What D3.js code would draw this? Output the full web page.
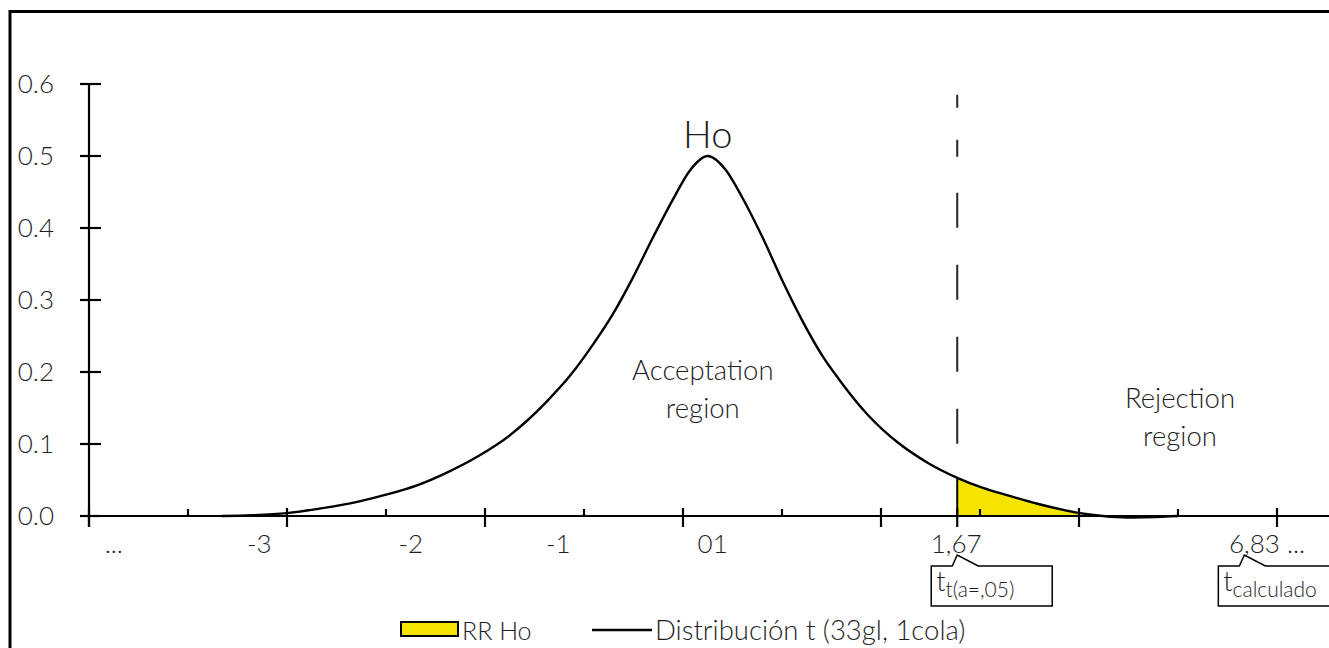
<!DOCTYPE html>
<html>
<head>
<meta charset="utf-8">
<script src="https://cdn.jsdelivr.net/npm/d3@7"></script>
<style>
  body { margin: 0; background: #fff; }
  svg { display: block; font-family: "Lato", "Open Sans", sans-serif; font-weight: 300; }
  text { fill: #1e1e1e; }
</style>
</head>
<body>
<script>
// curve positions along the axis (0..12 = tick slots) and density
var curveX = [1.34, 1.65, 2.00, 2.36, 2.72, 3.01, 3.32, 3.61, 3.93, 4.25, 4.43, 4.63, 4.86, 5.09, 5.29, 5.49, 5.69, 5.90, 6.07, 6.25,
              6.43, 6.60, 6.81, 7.01, 7.21, 7.41, 7.58, 7.87, 8.17, 8.47, 8.77, 9.03, 9.27, 9.58, 10.01, 10.24, 10.49, 11.0];
var curveY = [0, 0.001, 0.004, 0.011, 0.020, 0.030, 0.043, 0.060, 0.083, 0.112, 0.133, 0.160, 0.195, 0.238, 0.280, 0.330, 0.385, 0.440, 0.480, 0.500,
              0.481, 0.442, 0.385, 0.325, 0.270, 0.222, 0.189, 0.140, 0.102, 0.074, 0.053, 0.039, 0.029, 0.017, 0.004, 0.0, -0.002, 0];

// rejection area (RR Ho)
var areaX = [8.77, 9.03, 9.27, 9.58, 10.01];
var areaY = [0.053, 0.039, 0.029, 0.017, 0.004];

// critical value marker
var criticalX = 8.77;
var dashRange = [0.585, 0.099];

var yTicks = [0, 0.1, 0.2, 0.3, 0.4, 0.5, 0.6];
var majorTicks = [0, 2, 4, 6, 8, 8.77, 10, 12];
var minorTicks = [1, 3, 5, 7, 9, 11];

var xLabels = ["...", "-3", "-2", "-1", "01", "1,67", "6,83 ..."];
var xLabelPos = [0.25, 1.72, 3.25, 4.74, 6.30, 8.76, 11.9];

var callouts = [
    { at: 8.77, main: "t", sub: "t(a=,05)", width: 121 },
    { at: 11.67, main: "t", sub: "calculado", width: 130 }
];

var W = 1329, H = 648;

var svg = d3.select("body")
    .append("svg")
    .attr("width", W)
    .attr("height", H);

// outer frame (runs off the right and bottom like the original)
svg.append("rect")
    .attr("x", 10).attr("y", 11.5)
    .attr("width", 1400).attr("height", 700)
    .attr("fill", "none")
    .attr("stroke", "#000")
    .attr("stroke-width", 3);

var x = d3.scaleLinear().domain([0, 12]).range([89, 1277]);
var y = d3.scaleLinear().domain([0, 0.6]).range([516, 84]);

var pts = curveX.map((d, i) => [d, curveY[i]]);
var areaPts = areaX.map((d, i) => [d, areaY[i]]);

// yellow area
svg.append("path")
    .datum(areaPts)
    .attr("d", d3.area()
        .x(d => x(d[0]))
        .y0(y(0))
        .y1(d => y(d[1]))
        .curve(d3.curveMonotoneX))
    .attr("fill", "#f5e400")
    .attr("stroke", "none");

svg.append("line")
    .attr("x1", x(areaX[0])).attr("x2", x(areaX[0]))
    .attr("y1", y(0)).attr("y2", y(areaY[0]))
    .attr("stroke", "#000")
    .attr("stroke-width", 2);

// y axis
var gy = svg.append("g");
gy.append("line")
    .attr("x1", x(0)).attr("x2", x(0))
    .attr("y1", y(0.6)).attr("y2", y(0) + 11)
    .attr("stroke", "#000").attr("stroke-width", 2.2);
gy.selectAll("line.tk")
    .data(yTicks)
    .enter()
    .append("line")
    .attr("class", "tk")
    .attr("x1", x(0) - 9).attr("x2", x(0) + 12)
    .attr("y1", d => y(d)).attr("y2", d => y(d))
    .attr("stroke", "#000").attr("stroke-width", 2.2);
gy.selectAll("text")
    .data(yTicks)
    .enter()
    .append("text")
    .attr("x", 54)
    .attr("y", d => y(d) + 9)
    .attr("text-anchor", "end")
    .attr("font-size", 26)
    .text(d => d3.format(".1f")(d));

// x axis
var gx = svg.append("g");
gx.append("line")
    .attr("x1", 82).attr("x2", W)
    .attr("y1", y(0)).attr("y2", y(0))
    .attr("stroke", "#000").attr("stroke-width", 2.2);
gx.selectAll("line.major")
    .data(majorTicks)
    .enter()
    .append("line")
    .attr("class", "major")
    .attr("x1", d => x(d)).attr("x2", d => x(d))
    .attr("y1", y(0) - 8).attr("y2", y(0) + 11)
    .attr("stroke", "#000").attr("stroke-width", 2.2);
gx.selectAll("line.minor")
    .data(minorTicks)
    .enter()
    .append("line")
    .attr("class", "minor")
    .attr("x1", d => x(d)).attr("x2", d => x(d))
    .attr("y1", y(0) - 7).attr("y2", y(0))
    .attr("stroke", "#000").attr("stroke-width", 2.2);
gx.selectAll("text")
    .data(xLabels)
    .enter()
    .append("text")
    .attr("x", (d, i) => x(xLabelPos[i]))
    .attr("y", 553)
    .attr("text-anchor", "middle")
    .attr("font-size", 26)
    .text(d => d);

// distribution curve
svg.append("path")
    .datum(pts)
    .attr("d", d3.line()
        .x(d => x(d[0]))
        .y(d => y(d[1]))
        .curve(d3.curveMonotoneX))
    .attr("fill", "none")
    .attr("stroke", "#000")
    .attr("stroke-width", 2.4);

// dashed critical line
svg.append("line")
    .attr("x1", x(criticalX)).attr("x2", x(criticalX))
    .attr("y1", y(dashRange[0])).attr("y2", y(dashRange[1]))
    .attr("stroke", "#262626")
    .attr("stroke-width", 2)
    .attr("stroke-dasharray", "13,32,17,36,35,37,35,37,35,37,35");

// annotations
svg.append("text")
    .attr("x", x(6.25)).attr("y", 148)
    .attr("text-anchor", "middle")
    .attr("font-size", 38)
    .text("Ho");

var regions = [
    { cx: x(6.2), y: 380, lines: ["Acceptation", "region"] },
    { cx: x(11.02), y: 408, lines: ["Rejection", "region"] }
];
regions.forEach(r => {
    r.lines.forEach((l, i) => {
        svg.append("text")
            .attr("x", r.cx).attr("y", r.y + i * 38)
            .attr("text-anchor", "middle")
            .attr("font-size", 27.5)
            .text(l);
    });
});

// callouts
callouts.forEach(c => {
    var ax = x(c.at), top = 566, bot = 606, left = ax - 26;
    var p = d3.path();
    p.moveTo(left, top);
    p.lineTo(ax - 5, top);
    p.lineTo(ax, 555);
    p.lineTo(ax + 21, top);
    p.lineTo(left + c.width, top);
    p.lineTo(left + c.width, bot);
    p.lineTo(left, bot);
    p.closePath();
    svg.append("path")
        .attr("d", p.toString())
        .attr("fill", "#fff")
        .attr("stroke", "#000")
        .attr("stroke-width", 1.5);
    var t = svg.append("text")
        .attr("x", left + 5).attr("y", 591)
        .attr("font-size", 27);
    t.append("tspan").text(c.main);
    t.append("tspan")
        .attr("font-size", 21)
        .attr("dy", 6)
        .text(c.sub);
});

// legend
var lg = svg.append("g");
lg.append("rect")
    .attr("x", 401).attr("y", 622)
    .attr("width", 57).attr("height", 14)
    .attr("fill", "#f5e400")
    .attr("stroke", "#000")
    .attr("stroke-width", 2);
lg.append("text")
    .attr("x", 462).attr("y", 640)
    .attr("font-size", 25)
    .text("RR Ho");
lg.append("line")
    .attr("x1", 592).attr("x2", 652)
    .attr("y1", 630).attr("y2", 630)
    .attr("stroke", "#000").attr("stroke-width", 2.4);
lg.append("text")
    .attr("x", 655).attr("y", 640)
    .attr("font-size", 27.5)
    .text("Distribución t (33gl, 1cola)");
</script>
</body>
</html>
